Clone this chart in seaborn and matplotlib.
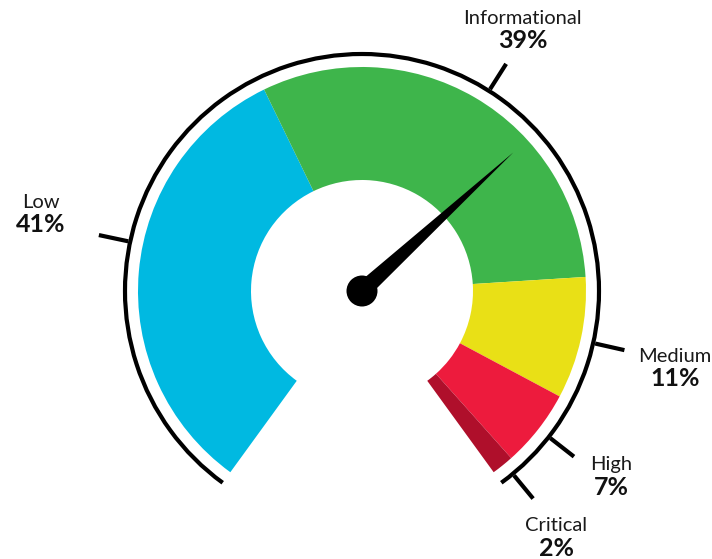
import numpy as np
import matplotlib
matplotlib.use("Agg")
import matplotlib.pyplot as plt
from matplotlib.patches import Wedge, Arc, Circle, Polygon
import seaborn as sns

# data
categories = ["Low", "Informational", "Medium", "High", "Critical"]
shares = [41, 39, 11, 7, 2]
needle_value = 66.5   # needle position, % of the dial

# layout / style
colors = ["#00B9E1", "#3EB54B", "#E9E016", "#ED1B3D", "#AF0F2B"]
tick_angles = [168, 57.6, -12.7, -38, -50.5]
label_offsets = [(-321, 77.5), (160.5, 261.5), (313, -76.5), (249, -185.3), (194, -246)]

sns.set_theme(style="white")
plt.rcParams["font.family"] = ["Lato", "DejaVu Sans"]

W, H = 712, 559
fig = plt.figure(figsize=(W / 100, H / 100), dpi=100)
ax = fig.add_axes([0, 0, 1, 1])
ax.set_xlim(0, W)
ax.set_ylim(0, H)
ax.set_aspect("equal")
ax.axis("off")

cx, cy = 362, 268
start, span = 234.0, 288.0
r_out, r_in = 224, 111

# coloured ring, clockwise from bottom-left
a = start
for share, col in zip(shares, colors):
    a2 = a - span * share / sum(shares)
    ax.add_patch(Wedge((cx, cy), r_out, a2, a, width=r_out - r_in,
                       facecolor=col, edgecolor="none"))
    a = a2

# outer black arc
R = 237
ax.add_patch(Arc((cx, cy), 2 * R, 2 * R, theta1=start - span, theta2=start,
                 color="black", lw=3.0))

# ticks + labels
for name, share, ang, (dx, dy) in zip(categories, shares, tick_angles, label_offsets):
    t = np.deg2rad(ang)
    ax.plot([cx + 239 * np.cos(t), cx + 269 * np.cos(t)],
            [cy + 239 * np.sin(t), cy + 269 * np.sin(t)],
            color="black", lw=3.0, solid_capstyle="butt")
    lx, ly = cx + dx, cy + dy
    ax.text(lx, ly + 11.5, name, ha="center", va="center", fontsize=14.5,
            fontweight="normal", color="#1a1a1a")
    ax.text(lx, ly - 11.5, f"{share}%", ha="center", va="center", fontsize=18,
            fontweight="bold", color="#111111")

# needle
na = np.deg2rad(start - span * needle_value / 100)
L, hw = 205, 8.5
d = np.array([np.cos(na), np.sin(na)])
p = np.array([-d[1], d[0]])
c = np.array([cx, cy])
ax.add_patch(Polygon([c + p * hw, c + d * L, c - p * hw], closed=True,
                     facecolor="black", edgecolor="none"))
ax.add_patch(Circle((cx, cy), 15.5, facecolor="black", edgecolor="none"))

fig.savefig("out.png", dpi=100)
